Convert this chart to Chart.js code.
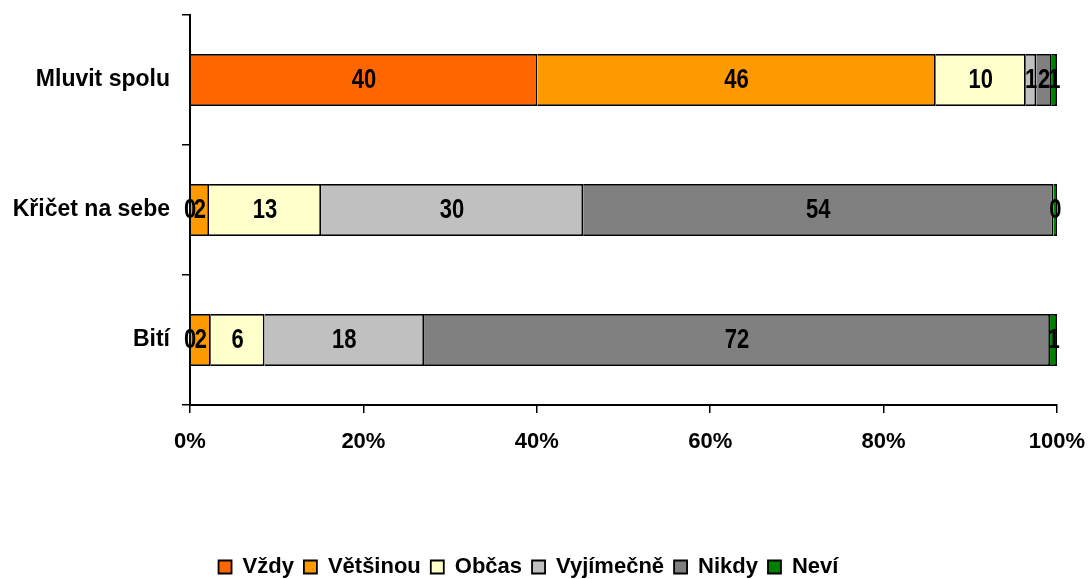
<!DOCTYPE html>
<html>
<head>
<meta charset="utf-8">
<script src="https://cdn.jsdelivr.net/npm/chart.js@4"></script>
<style>
  html, body { margin: 0; padding: 0; background: #fff; }
  #wrap { width: 1090px; height: 579px; }
</style>
</head>
<body>
<div id="wrap"><canvas id="chart"></canvas></div>
<script>
// categories (top to bottom)
var categories = ['Mluvit spolu', 'Křičet na sebe', 'Bití'];

// answers, one array per category, in the order of the series
var seriesNames = ['Vždy', 'Většinou', 'Občas', 'Vyjímečně', 'Nikdy', 'Neví'];
var mluvitSpolu = [40.1, 46.0, 10.4, 1.2, 1.8, 0.6];
var kricetNaSebe = [0, 2.2, 12.9, 30.2, 54.2, 0.4];
var biti = [0, 2.4, 6.2, 18.4, 72.2, 0.8];

var xTicks = [0, 20, 40, 60, 80, 100];

var barColors = ['#FF6600', '#FF9900', '#FFFFCC', '#C0C0C0', '#808080', '#008000'];

var FONT = "'Liberation Sans', Arial, sans-serif";

var rows = [mluvitSpolu, kricetNaSebe, biti];

// 100% stacked -> share of each row
var toPercent = function (row) {
  var total = row.reduce(function (a, b) { return a + b; }, 0);
  return row.map(function (v) { return v / total * 100; });
};
var percentRows = rows.map(toPercent);

var datasets = seriesNames.map(function (name, i) {
  return {
    label: name,
    data: percentRows.map(function (r) { return r[i]; }),
    raw: rows.map(function (r) { return r[i]; }),
    backgroundColor: barColors[i],
    borderColor: '#000',
    borderWidth: 1.8,
    barPercentage: 0.4,
    categoryPercentage: 1.0
  };
});

// numbers written in the middle of every segment
var segmentLabels = {
  id: 'segmentLabels',
  afterDatasetsDraw: function (chart) {
    var ctx = chart.ctx;
    ctx.save();
    ctx.font = 'bold 22px ' + FONT;
    ctx.fillStyle = '#000';
    ctx.textAlign = 'center';
    ctx.textBaseline = 'middle';
    chart.data.datasets.forEach(function (ds, di) {
      var meta = chart.getDatasetMeta(di);
      meta.data.forEach(function (bar, idx) {
        var p = bar.getProps(['x', 'y', 'base'], true);
        // text looks stretched upward in the original
        ctx.save();
        ctx.translate((p.x + p.base) / 2, p.y);
        ctx.scale(1, 1.25);
        ctx.fillText(Math.round(ds.raw[idx]), 0, 0);
        ctx.restore();
      });
    });
    ctx.restore();
  }
};

// push the legend a bit lower, towards the bottom edge
var legendShift = {
  id: 'legendShift',
  afterLayout: function (chart) {
    if (chart.legend) {
      chart.legend.top += 9;
      chart.legend.bottom += 9;
    }
  }
};

new Chart(document.getElementById('chart'), {
  type: 'bar',
  data: { labels: categories, datasets: datasets },
  options: {
    indexAxis: 'y',
    responsive: true,
    maintainAspectRatio: false,
    animation: false,
    layout: { padding: { top: 15, right: 33, left: 0, bottom: 0 } },
    scales: {
      x: {
        stacked: true,
        min: 0,
        max: 100,
        afterBuildTicks: function (scale) {
          scale.ticks = xTicks.map(function (v) { return { value: v }; });
        },
        afterFit: function (scale) {
          scale.height = 132;
          scale.paddingLeft = 0;
          scale.paddingRight = 0;
        },
        grid: { drawOnChartArea: false, drawTicks: true, tickLength: 8, color: '#000', lineWidth: 1.5 },
        border: { display: true, color: '#000', width: 2 },
        ticks: {
          color: '#000',
          padding: 16,
          maxRotation: 0,
          font: { family: FONT, size: 22, weight: 'bold' },
          callback: function (v) { return v + '%'; }
        }
      },
      y: {
        stacked: true,
        afterFit: function (scale) {
          scale.width = 190;
          scale.paddingTop = 0;
          scale.paddingBottom = 0;
        },
        grid: { drawOnChartArea: false, drawTicks: true, tickLength: 8, color: '#000', lineWidth: 1.5, offset: true },
        border: { display: true, color: '#000', width: 2 },
        ticks: {
          color: '#000',
          padding: 12,
          font: { family: FONT, size: 23, weight: 'bold' }
        }
      }
    },
    plugins: {
      tooltip: { enabled: false },
      legend: {
        position: 'bottom',
        labels: {
          color: '#000',
          boxWidth: 13,
          boxHeight: 13,
          padding: 10,
          font: { family: FONT, size: 22, weight: 'bold' }
        }
      }
    }
  },
  plugins: [segmentLabels, legendShift]
});
</script>
</body>
</html>
